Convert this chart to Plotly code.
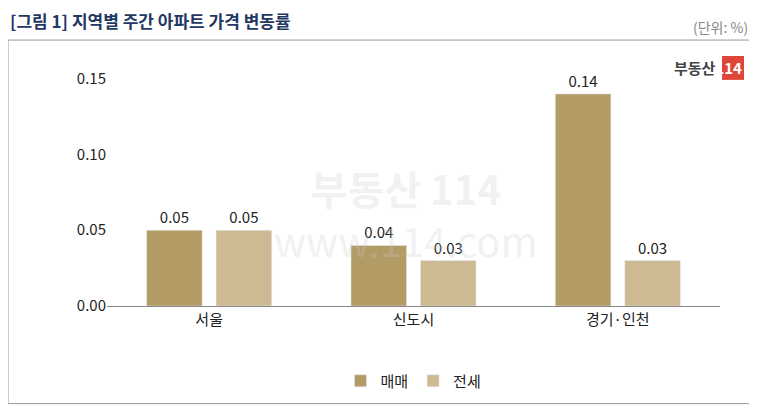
import plotly.graph_objects as go

categories = ["서울", "신도시", "경기·인천"]
maemae = [0.05, 0.04, 0.14]
jeonse = [0.05, 0.03, 0.03]

# the page body adds an 8px margin, so draw in a slightly smaller canvas
OFF = 8
W, H = 757 - 2 * OFF, 416 - 2 * OFF
L, R, T, B = 107 - OFF, 37 - OFF, 56 - OFF, 109 - OFF
pw, ph = W - L - R, H - T - B

def px(x):
    return (x - OFF - L) / pw

def py(y):
    return (H - B - (y - OFF)) / ph

FONT = "Noto Sans CJK KR"

fig = go.Figure()
fig.add_trace(go.Bar(x=categories, y=maemae, name="매매", marker_color="#B39B66",
                     text=[f"{v:.2f}" for v in maemae], textposition="outside",
                     textfont=dict(size=15, color="#222")))
fig.add_trace(go.Bar(x=categories, y=jeonse, name="전세", marker_color="#CDBA93",
                     text=[f"{v:.2f}" for v in jeonse], textposition="outside",
                     textfont=dict(size=15, color="#222")))

fig.update_layout(
    width=W, height=H, margin=dict(l=L, r=R, t=T, b=B),
    paper_bgcolor="white", plot_bgcolor="white",
    font=dict(family=FONT, size=14, color="#222"),
    barmode="group", bargap=0.32, bargroupgap=0.2,
    showlegend=True,
    legend=dict(orientation="h", x=0.5, xanchor="center", y=py(381), yanchor="middle",
                font=dict(size=15), itemwidth=30),
    xaxis=dict(showline=True, linecolor="#888", ticks="", tickfont=dict(size=15)),
    yaxis=dict(range=[0, 0.165], tickvals=[0, 0.05, 0.10, 0.15], tickformat=".2f",
               showgrid=False, showline=False, ticks="", tickfont=dict(size=15)),
    shapes=[dict(type="rect", xref="paper", yref="paper", x0=px(8), x1=px(750),
                 y0=py(405), y1=py(40), line=dict(color="#999", width=1), layer="below"),
            dict(type="rect", xref="paper", yref="paper", x0=px(722), x1=px(744),
                 y0=py(80), y1=py(56), fillcolor="#E0453A", line=dict(width=0), layer="below")],
    annotations=[
        dict(text="<b>[그림 1] 지역별 주간 아파트 가격 변동률</b>", xref="paper", yref="paper",
             x=px(8), y=py(20), xanchor="left", yanchor="middle", showarrow=False,
             font=dict(size=17, color="#1F3864")),
        dict(text="(단위: %)", xref="paper", yref="paper", x=px(750), y=py(27),
             xanchor="right", yanchor="middle", showarrow=False,
             font=dict(size=14, color="#888")),
        dict(text="<b>부동산</b><span style='color:white'><b>114</b></span>", xref="paper", yref="paper",
             x=px(744), y=py(68), xanchor="right", yanchor="middle", showarrow=False,
             font=dict(size=15, color="#444")),
        dict(text="<b>부동산 114</b><br>www.114.com", xref="paper", yref="paper",
             x=px(405), y=py(215), xanchor="center", yanchor="middle", showarrow=False,
             font=dict(size=40, color="rgba(200,200,200,0.25)")),
    ],
)
fig.write_html("out.html")
